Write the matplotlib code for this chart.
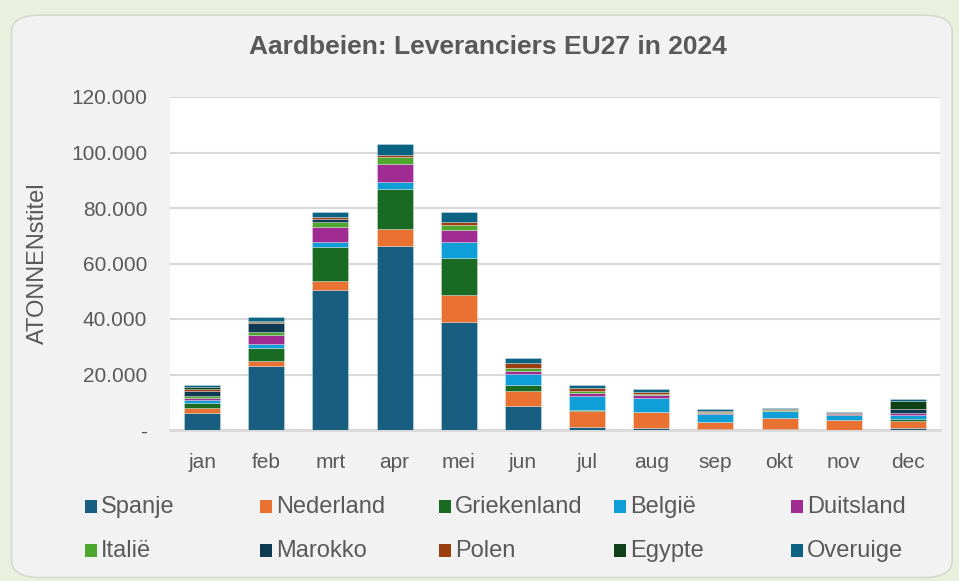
import matplotlib
matplotlib.use("Agg")
import matplotlib.pyplot as plt
from matplotlib.patches import FancyBboxPatch, Rectangle
from matplotlib.ticker import FuncFormatter, MultipleLocator
import numpy as np

plt.rcParams['font.family'] = ['Liberation Sans', 'DejaVu Sans']

# ---- data (tonnes) ----
months = ["jan", "feb", "mrt", "apr", "mei", "jun",
          "jul", "aug", "sep", "okt", "nov", "dec"]
suppliers = ["Spanje", "Nederland", "Griekenland", "België", "Duitsland",
             "Italië", "Marokko", "Polen", "Egypte", "Overuige"]

spanje      = [6200, 23000, 50600, 66400, 38800, 8500, 1000, 600, 300, 200, 100, 800]
nederland   = [1800, 2000, 3200, 6000, 10000, 5600, 6000, 5800, 2600, 4000, 3500, 2600]
griekenland = [1800, 4500, 12300, 14500, 13100, 2200, 100, 100, 0, 0, 0, 500]
belgie      = [900, 1500, 1600, 2600, 6000, 4000, 5200, 4900, 3000, 2600, 1900, 1400]
duitsland   = [1000, 3400, 5300, 6500, 4100, 1100, 1200, 1200, 300, 200, 100, 700]
italie      = [500, 1000, 1800, 2300, 1700, 800, 500, 500, 300, 200, 100, 200]
marokko     = [1900, 3000, 1300, 100, 100, 100, 0, 0, 0, 0, 0, 1200]
polen       = [500, 400, 500, 800, 1200, 1800, 1300, 600, 500, 300, 300, 200]
egypte      = [1000, 300, 200, 0, 0, 0, 0, 0, 0, 0, 0, 2800]
overuige    = [600, 1600, 1800, 3800, 3700, 1700, 800, 1100, 400, 400, 500, 700]

series = [spanje, nederland, griekenland, belgie, duitsland,
          italie, marokko, polen, egypte, overuige]
colors = ["#175E80", "#E97132", "#196B24", "#0F9ED5", "#A02B93",
          "#4EA72E", "#0E3A52", "#9A3F10", "#0F4016", "#0B6384"]

text_color = "#595959"
W, H = 959, 581

fig = plt.figure(figsize=(W / 100, H / 100), dpi=100)
fig.patch.set_facecolor("#E9F1DE")

# rounded chart panel
panel = FancyBboxPatch((0.012, 0.006), 0.981, 0.968,
                       boxstyle="round,pad=0,rounding_size=0.03",
                       transform=fig.transFigure, facecolor="#F2F2F2",
                       edgecolor="#D4D9CF", linewidth=1.2, zorder=-10)
fig.patches.append(panel)

ax = fig.add_axes([170 / W, 151 / H, 770 / W, 333 / H])
ax.set_zorder(1)
ax.set_facecolor("white")

x = np.arange(len(months))
bottom = np.zeros(len(months))
for name, vals, col in zip(suppliers, series, colors):
    vals = np.array(vals, dtype=float)
    # no outline on empty segments, otherwise they show up as grey lines
    lw = np.where(vals > 0, 0.5, 0.0)
    ax.bar(x, vals, width=0.56, bottom=bottom, color=col, label=name,
           edgecolor=(1, 1, 1, 0.4), linewidth=lw, zorder=3)
    bottom += vals

ax.set_xlim(-0.5, len(months) - 0.5)
ax.set_ylim(0, 120000)
ax.yaxis.set_major_locator(MultipleLocator(20000))
ax.yaxis.set_major_formatter(FuncFormatter(
    lambda v, p: "-" if v == 0 else f"{v:,.0f}".replace(",", ".")))
ax.grid(axis="y", color="#D9D9D9", linewidth=1.5, zorder=0)
ax.set_xticks(x)
ax.set_xticklabels(months)

for s in ["top", "right", "left"]:
    ax.spines[s].set_visible(False)
ax.spines["bottom"].set_color("#D9D9D9")
ax.spines["bottom"].set_linewidth(2)

ax.tick_params(axis="y", length=0, pad=16.5, labelsize=15, labelcolor=text_color)
ax.tick_params(axis="x", length=0, pad=16.5, labelsize=15, labelcolor=text_color)

ax.set_ylabel("ATONNENstitel", fontsize=17, color=text_color)
ax.yaxis.set_label_coords(-0.157, 0.5)

fig.text(0.509, 0.919, "Aardbeien: Leveranciers EU27 in 2024", ha="center",
         va="center", fontsize=19, fontweight="bold", color=text_color)

# legend: 2 rows x 5 columns, placed like the original
col_x = [85, 260, 439, 614, 791]
row_y = [507, 551]
for i, (name, col) in enumerate(zip(suppliers, colors)):
    px = col_x[i % 5]
    py = row_y[i // 5]
    fig.patches.append(Rectangle((px / W, 1 - (py + 6) / H), 12 / W, 13 / H,
                                 transform=fig.transFigure, facecolor=col,
                                 edgecolor="none", zorder=2))
    fig.text((px + 16) / W, 1 - py / H, name, ha="left", va="center",
             fontsize=17, color=text_color)

fig.savefig("out.png", dpi=100, facecolor=fig.get_facecolor())
